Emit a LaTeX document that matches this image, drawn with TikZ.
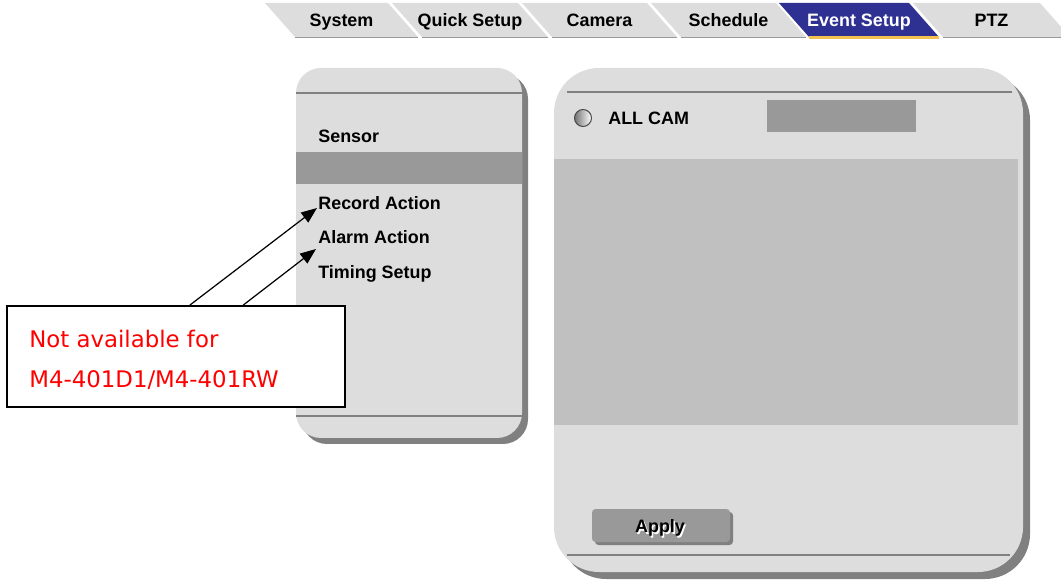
\documentclass[tikz,border=0pt]{standalone}
\usepackage{fontspec}
\setmainfont{Liberation Sans}
\newfontfamily\notefont{DejaVu Sans}
\usetikzlibrary{calc}
\usetikzlibrary{arrows.meta}

\definecolor{panelgray}{HTML}{DDDDDD}
\definecolor{shadowgray}{HTML}{808080}
\definecolor{bandgray}{HTML}{999999}
\definecolor{areagray}{HTML}{C0C0C0}
\definecolor{tabblue}{HTML}{2E3192}
\definecolor{tabline}{HTML}{F2C14E}

\tikzset{
  menu/.style={anchor=base west,inner sep=0pt,font=\fontsize{10.2}{12}\selectfont\bfseries},
  tablabel/.style={anchor=base,inner sep=0pt,font=\fontsize{10.2}{12}\selectfont\bfseries},
  rule/.style={draw=shadowgray,line width=1.1pt},
  notetext/.style={anchor=base west,inner sep=0pt,text=red,font=\notefont\fontsize{13}{15}\selectfont},
  callout/.style={-{Triangle[length=9pt,width=7pt]},line width=0.7pt},
}

\begin{document}
\begin{tikzpicture}[x=0.02cm,y=-0.02cm]
        \useasboundingbox (0,0) rectangle (1061,580);

        % Tabs
        \foreach \l/\r/\t [count=\i] in {265/388/System,392/518/Quick Setup,522/647/Camera,651/776/Schedule,913/1040/PTZ}{
            \fill[panelgray] (\l,3) -- (\r,3) -- (\r+30,37) -- (\l+30,37) -- cycle;
            \draw[bandgray,line width=1pt] (\l+30,37.5) -- (\r+30,37.5);
            \node[tablabel] (tab\i) at ({(\l+\r)/2+15},26.5) {\t};
        }
        % Active tab
        \fill[tabblue] (779,3) -- (909,3) -- (939,37) -- (809,37) -- cycle;
        \draw[tabline,line width=1.2pt] (809,37.5) -- (939,37.5);
        \node[tablabel,text=white] (tabevent) at (859,26.5) {Event Setup};

        % Menu panel
        \fill[shadowgray,rounded corners=0.5cm] (302,74) rectangle (528,444);
        \fill[panelgray,rounded corners=0.5cm] (296,68) rectangle (522,438);
        \draw[rule] (296,93) -- (522,93);
        \draw[rule] (296,416) -- (522,416);
        \fill[bandgray] (296,152) rectangle (522,184);
        \node[menu] (sensor) at (318,142.5) {Sensor};
        \node[menu] (record) at (318,209.5) {Record Action};
        \node[menu] (alarm) at (318,243.5) {Alarm Action};
        \node[menu] (timing) at (318,278.5) {Timing Setup};

        % Main panel
        \fill[shadowgray,rounded corners=0.9cm] (561,75) rectangle (1030,579);
        \fill[panelgray,rounded corners=0.9cm] (554,68) rectangle (1023,572);
        \draw[rule] (567,92) -- (1012,92);
        \draw[rule] (567,555) -- (1010,555);
        \node[circle,inner sep=0pt,minimum size=0.34cm,draw=black!70,line width=0.6pt,
              left color=black!55,right color=white] (radio) at (583,118) {};
        \node[menu] (allcam) at (608,124.5) {ALL CAM};
        \fill[bandgray] (767,100) rectangle (916,132);
        \fill[areagray] (554,159) rectangle (1018,425);

        % Apply button
        \fill[shadowgray,rounded corners=2pt] (595,512) rectangle (733,545);
        \fill[bandgray,rounded corners=2pt] (592,509) rectangle (730,542);
        \node[tablabel,text=white] at (661.5,534) {Apply};
        \node[tablabel] (apply) at (660,532.5) {Apply};

        % Note box
        \node[draw,fill=white,line width=1.1pt,minimum width=6.76cm,minimum height=2.02cm,inner sep=0pt] (note) at (176,356.5) {};
        \node[notetext] (note1) at (29,347.5) {Not available for};
        \node[notetext] (note2) at (29,387.5) {M4-401D1/M4-401RW};
        \coordinate (tipA) at (317,208);
        \coordinate (tipB) at (316,249);
        \draw[callout] ($(note.north west)!0.541!(note.north east)$) -- (tipA);
        \draw[callout] ($(note.north west)!0.698!(note.north east)$) -- (tipB);
\end{tikzpicture}
\end{document}
